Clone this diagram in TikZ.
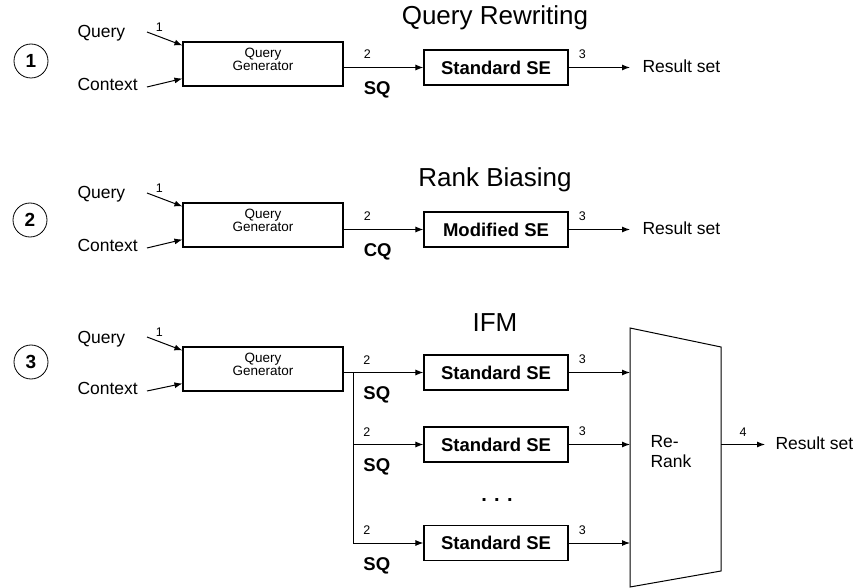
\documentclass[tikz,border=0pt]{standalone}
\usepackage{fontspec}
\setmainfont{Liberation Sans}
\usetikzlibrary{arrows.meta}

\begin{document}
\begin{tikzpicture}[x=1pt, y=-1pt, line width=1pt,
    >={Latex[length=8pt,width=6pt]},
    ttl/.style={font=\fontsize{26}{28}\selectfont},
    lbl/.style={font=\fontsize{17.5}{20}\selectfont, inner sep=0pt},
    num/.style={font=\fontsize{12.5}{13}\selectfont, inner sep=1pt},
    tag/.style={font=\bfseries\fontsize{18.5}{20}\selectfont, inner sep=1pt},
    stepno/.style={draw, circle, line width=0.8pt, minimum size=34pt, inner sep=0pt,
      font=\bfseries\fontsize{19}{20}\selectfont},
    qgen/.style={draw, line width=1.1pt, minimum width=160pt, minimum height=44pt,
      align=center, text depth=9pt, font=\fontsize{13.5}{12.5}\selectfont},
    sebox/.style={draw, line width=1.1pt, minimum width=144pt, minimum height=35pt,
      font=\bfseries\fontsize{18.5}{20}\selectfont},
    res/.style={lbl, anchor=west, inner xsep=12pt}]
  \useasboundingbox (0,0) rectangle (860,588);

  % 1 - query rewriting
  \node[ttl] (t1) at (495,18) {Query Rewriting};
  \node[stepno] (c1) at (31,61) {1};
  \node[qgen] (qg1) at (263,64) {Query\\Generator};
  \node[lbl, anchor=base west] (q1) at (77,38) {Query};
  \node[lbl, anchor=base west] (x1) at (77,91) {Context};
  \coordinate (q1s) at (147,32);
  \coordinate (x1s) at (147,87);
  \node[sebox] (se1) at (496,67.5) {Standard SE};
  \node[res] (r1) at (630,66) {Result set};
  \draw[->] (q1s) -- node[num, pos=0.35, above=4pt] {1} ([yshift=-4pt]qg1.north west);
  \draw[->] (x1s) -- ([yshift=8pt]qg1.south west);
  \draw[->] (qg1.east |- se1.west) --
    node[num, pos=0.235, anchor=south west, yshift=7pt] {2}
    node[tag, pos=0.235, anchor=north west, yshift=-13pt] {SQ} (se1.west);
  \draw[->] (se1.east) -- node[num, pos=0.226, above=7pt] {3} (se1.east -| r1.west);

  % 2 - rank biasing
  \node[ttl] (t2) at (495,180) {Rank Biasing};
  \node[stepno] (c2) at (30,220) {2};
  \node[qgen] (qg2) at (263,225) {Query\\Generator};
  \node[lbl, anchor=base west] (q2) at (77,199) {Query};
  \node[lbl, anchor=base west] (x2) at (77,252) {Context};
  \coordinate (q2s) at (147,193);
  \coordinate (x2s) at (147,248);
  \node[sebox] (se2) at (496,229.5) {Modified SE};
  \node[res] (r2) at (630,228) {Result set};
  \draw[->] (q2s) -- node[num, pos=0.35, above=4pt] {1} ([yshift=-4pt]qg2.north west);
  \draw[->] (x2s) -- ([yshift=8pt]qg2.south west);
  \draw[->] (qg2.east |- se2.west) --
    node[num, pos=0.235, anchor=south west, yshift=7pt] {2}
    node[tag, pos=0.235, anchor=north west, yshift=-13pt] {CQ} (se2.west);
  \draw[->] (se2.east) -- node[num, pos=0.226, above=7pt] {3} (se2.east -| r2.west);

  % 3 - IFM
  \node[ttl] (t3) at (495,323) {IFM};
  \node[stepno] (c3) at (31,362) {3};
  \node[qgen] (qg3) at (263,369) {Query\\Generator};
  \node[lbl, anchor=base west] (q3) at (77,343) {Query};
  \node[lbl, anchor=base west] (x3) at (77,394) {Context};
  \coordinate (q3s) at (147,337);
  \coordinate (x3s) at (147,391);
  \node[sebox] (se3a) at (496,372.5) {Standard SE};
  \node[sebox] (se3b) at (496,444.5) {Standard SE};
  \node[sebox] (se3c) at (496,543) {Standard SE};
  \node[tag, font=\bfseries\fontsize{20}{20}\selectfont] (dots) at (497,500) {. . .};
  \coordinate (fork) at (353,372.5);
  \coordinate (rrtl) at (630,328);
  \coordinate (rrtr) at (721,347);
  \coordinate (rrbr) at (721,571);
  \coordinate (rrbl) at (630,587);
  \draw (rrtl) -- (rrtr) -- (rrbr) -- (rrbl) -- cycle;
  \node[lbl, anchor=west, align=left] (rr) at (650,452) {Re-\\Rank};
  \node[res, inner xsep=10pt] (r3) at (765,443) {Result set};
  \draw[->] (q3s) -- node[num, pos=0.35, above=4pt] {1} ([yshift=-4pt]qg3.north west);
  \draw[->] (x3s) -- ([yshift=8pt]qg3.south west);
  \draw (qg3.east |- fork) -- (fork);
  \draw (fork) -- (fork |- se3c.west);
  \draw[->] (fork) --
    node[num, pos=0.127, anchor=south west, yshift=7pt] {2}
    node[tag, pos=0.127, anchor=north west, yshift=-13pt] {SQ} (se3a.west);
  \draw[->] (fork |- se3b.west) --
    node[num, pos=0.127, anchor=south west, yshift=7pt] {2}
    node[tag, pos=0.127, anchor=north west, yshift=-13pt] {SQ} (se3b.west);
  \draw[->] (fork |- se3c.west) --
    node[num, pos=0.127, anchor=south west, yshift=7pt] {2}
    node[tag, pos=0.127, anchor=north west, yshift=-13pt] {SQ} (se3c.west);
  \draw[->] (se3a.east) -- node[num, pos=0.226, above=7pt] {3} (se3a.east -| rrtl);
  \draw[->] (se3b.east) -- node[num, pos=0.226, above=7pt] {3} (se3b.east -| rrtl);
  \draw[->] (se3c.east) -- node[num, pos=0.226, above=7pt] {3} (se3c.east -| rrtl);
  \draw[->] (se3b.east -| rrtr) -- node[num, above=7pt] {4} (se3b.east -| r3.west);
\end{tikzpicture}
\end{document}
